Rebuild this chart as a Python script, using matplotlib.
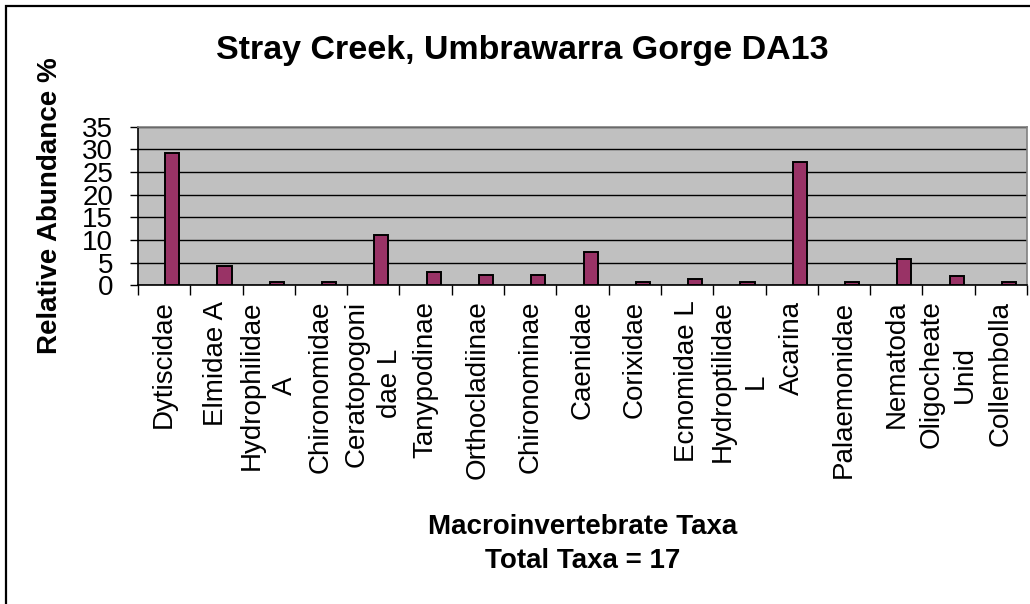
import matplotlib
matplotlib.use("Agg")
import matplotlib.pyplot as plt
from matplotlib.patches import Rectangle
import numpy as np

plt.rcParams['font.family'] = ['Liberation Sans', 'DejaVu Sans']

title = "Stray Creek, Umbrawarra Gorge DA13"
xlabel = "Macroinvertebrate Taxa\nTotal Taxa = 17"
ylabel = "Relative Abundance %"

categories = ["Dytiscidae", "Elmidae A", "Hydrophilidae\nA", "Chironomidae",
              "Ceratopogoni\ndae L", "Tanypodinae", "Orthocladiinae", "Chironominae",
              "Caenidae", "Corixidae", "Ecnomidae L", "Hydroptilidae\nL", "Acarina",
              "Palaemonidae", "Nematoda", "Oligocheate\nUnid", "Collembolla"]
values = [29.1, 4.3, 0.7, 0.7, 11.0, 3.0, 2.3, 2.3, 7.4, 0.7, 1.3, 0.7, 27.2,
          0.7, 5.9, 2.1, 0.7]
yticks = [0, 5, 10, 15, 20, 25, 30, 35]

W, H = 1030, 604
fig = plt.figure(figsize=(W / 100, H / 100), dpi=100)
fig.patch.set_facecolor('white')

# chart border (only left/top visible in the crop)
fig.add_artist(Rectangle((6 / W, -0.1), 2.0, 1 - 6 / H + 0.1,
                         transform=fig.transFigure, fill=False,
                         edgecolor='black', linewidth=1.6))

left, right, top, bottom = 138, 1027, 126.7, 285.3
ax = fig.add_axes([left / W, (H - bottom) / H, (right - left) / W, (bottom - top) / H])
ax.set_facecolor('#C0C0C0')

x = np.arange(len(categories))
ax.bar(x + 0.155, values, width=0.27, color='#993366', edgecolor='black',
       linewidth=1.4, zorder=3)

ax.set_xlim(-0.5, len(categories) - 0.5)
ax.set_ylim(0, 35)
ax.set_yticks(yticks)
ax.set_yticklabels([str(v) for v in yticks], fontsize=20)
ax.yaxis.grid(True, color='black', linewidth=1.0, zorder=1)
ax.set_axisbelow(True)

ax.set_xticks(x)
ax.set_xticklabels(categories, rotation=90, fontsize=20, ha='center', va='top',
                   linespacing=1.35)
ax.set_xticks(np.arange(-0.5, len(categories), 1.0), minor=True)
ax.tick_params(axis='x', which='major', length=0, pad=11)
ax.tick_params(axis='x', which='minor', length=7, width=1.0, color='black', direction='out')
ax.tick_params(axis='y', which='major', length=6, width=1.0, color='black',
               direction='out', pad=12)

for s in ['top', 'right']:
    ax.spines[s].set_color('#808080')
    ax.spines[s].set_linewidth(1.2)
for s in ['left', 'bottom']:
    ax.spines[s].set_color('black')
    ax.spines[s].set_linewidth(1.2)

ax.set_ylabel(ylabel, fontsize=20, fontweight='bold')
ax.yaxis.set_label_coords((50 - left) / (right - left), 0.5)
ax.yaxis.label.set_va('center')

ax.set_xlabel(xlabel, fontsize=20, fontweight='bold', linespacing=1.4)
ax.xaxis.set_label_coords(0.5, (bottom - 544) / (bottom - top))
ax.xaxis.label.set_va('center')

ax.set_title(title, fontsize=24.5, fontweight='bold',
             x=(522 - left) / (right - left), y=(bottom - 59) / (bottom - top),
             va='baseline', pad=0)

fig.savefig("out.png", dpi=100)
